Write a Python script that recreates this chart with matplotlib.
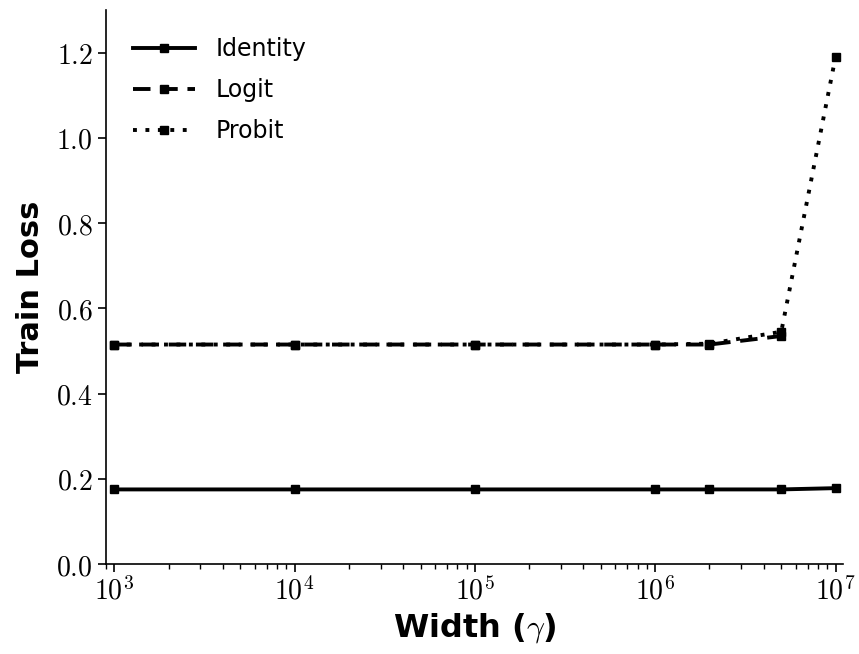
import matplotlib
matplotlib.use("Agg")
import matplotlib.pyplot as plt
from matplotlib.ticker import FuncFormatter, LogLocator
import numpy as np

widths = [1e3, 1e4, 1e5, 1e6, 2e6, 5e6, 1e7]
identity = [0.175, 0.175, 0.175, 0.175, 0.175, 0.175, 0.178]
logit = [0.515, 0.515, 0.515, 0.515, 0.515, 0.535, np.nan]
probit = [0.515, 0.515, 0.515, 0.515, 0.517, 0.545, 1.19]
yticks = [0.0, 0.2, 0.4, 0.6, 0.8, 1.0, 1.2]

plt.rcParams['mathtext.fontset'] = 'cm'
plt.rcParams['font.family'] = ['DejaVu Sans']

fig = plt.figure(figsize=(8.59, 6.54), dpi=100)
ax = fig.add_axes([106/859, 1 - 564/654, (843-106)/859, (564-10)/654])

kw = dict(color='black', marker='s', markersize=6, linewidth=2.8)
ax.plot(widths, identity, linestyle='-', label='Identity', **kw)
ax.plot(widths, logit, linestyle=(0, (4.5, 2.5)), label='Logit', **kw)
ax.plot(widths, probit, linestyle=(0, (1, 2.2)), label='Probit', **kw)

ax.set_xscale('log')
ax.set_xlim(900, 1.1e7)
ax.set_ylim(0, 1.3)
ax.set_yticks(yticks)
ax.yaxis.set_major_formatter(FuncFormatter(lambda v, p: r'$%.1f$' % v))
ax.xaxis.set_major_locator(LogLocator(base=10))
ax.xaxis.set_major_formatter(FuncFormatter(lambda v, p: r'$10^{%d}$' % round(np.log10(v))))
ax.tick_params(axis='both', labelsize=20, width=1.2, length=6)
ax.tick_params(axis='x', which='minor', width=1, length=3.5)
for s in ['top', 'right']:
    ax.spines[s].set_visible(False)
for s in ['left', 'bottom']:
    ax.spines[s].set_linewidth(1.2)

ax.set_xlabel(r'Width ($\gamma$)', fontsize=23, fontweight='bold', labelpad=4)
ax.set_ylabel('Train Loss', fontsize=22, fontweight='bold', labelpad=8)

ax.legend(loc='upper left', fontsize=17, frameon=False, handlelength=2.6,
          handletextpad=0.9, labelspacing=0.72,
          bbox_to_anchor=(0.0, 1.0), borderaxespad=0.75)

fig.savefig('out.png', dpi=100)
